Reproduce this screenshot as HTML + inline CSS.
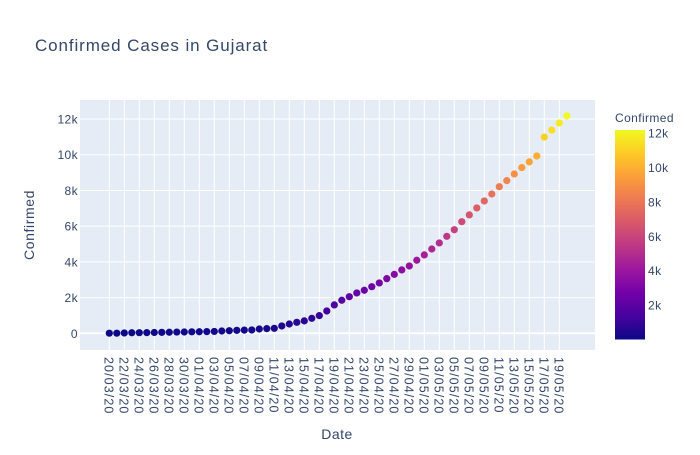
<!DOCTYPE html>
<html><head><meta charset="utf-8"><style>
body{margin:0;background:#fff;font-family:"Liberation Sans",sans-serif;}
svg text{font-family:"Liberation Sans",sans-serif;fill:#34466a;}
</style></head><body>
<svg id="chart" width="700" height="450" xmlns="http://www.w3.org/2000/svg">
<defs>
<linearGradient id="plasma" x1="0" y1="1" x2="0" y2="0">
<stop offset="0" stop-color="#0d0887"/><stop offset="0.111" stop-color="#46039f"/><stop offset="0.222" stop-color="#7201a8"/><stop offset="0.333" stop-color="#9c179e"/><stop offset="0.444" stop-color="#bd3786"/><stop offset="0.556" stop-color="#d8576b"/><stop offset="0.667" stop-color="#ed7953"/><stop offset="0.778" stop-color="#fb9f3a"/><stop offset="0.889" stop-color="#fdca26"/><stop offset="1" stop-color="#f0f921"/>
</linearGradient>
</defs>
<text x="35" y="51" font-size="17" letter-spacing="0.9">Confirmed Cases in Gujarat</text>
<rect x="80" y="100" width="515" height="250" fill="#e5ecf6"/>
<g id="grid"></g>
<g id="yticks"></g>
<g id="xticks"></g>
<g id="points"></g>
<text x="337" y="439" font-size="14" letter-spacing="0.5" text-anchor="middle">Date</text>
<text transform="translate(34,225) rotate(-90)" font-size="14" letter-spacing="0.6" text-anchor="middle">Confirmed</text>
<text x="615" y="122" font-size="12" letter-spacing="0.4">Confirmed</text>
<rect x="615" y="130" width="30" height="209.5" fill="url(#plasma)"/>
<g id="cbticks"></g>
</svg>
<script>
const startDate = [2020, 2, 20];
const confirmed = [5,7,18,30,33,38,44,53,58,69,73,82,87,95,105,128,144,165,179,186,241,262,280,410,520,615,695,840,990,1250,1590,1850,2050,2260,2410,2610,2820,3060,3300,3550,3770,4090,4390,4720,5060,5430,5800,6250,6630,7020,7410,7800,8210,8550,8920,9280,9600,9930,10990,11380,11780,12170];
const yTicks = [0,2000,4000,6000,8000,10000,12000];
const yTickLabels = ["0","2k","4k","6k","8k","10k","12k"];
const cbTicks = [2000,4000,6000,8000,10000,12000];
const cbTickLabels = ["2k","4k","6k","8k","10k","12k"];

const NS="http://www.w3.org/2000/svg";
function mk(t,a,p){const e=document.createElementNS(NS,t);for(const k in a)e.setAttribute(k,a[k]);p.appendChild(e);return e;}
const xS=i=>109.3+i*7.5;
const yS=v=>333.3-v*0.017857;
const cmin=Math.min(...confirmed), cmax=Math.max(...confirmed);
const cbS=v=>339.5-(v-cmin)/(cmax-cmin)*209.5;
const stops=["#0d0887","#46039f","#7201a8","#9c179e","#bd3786","#d8576b","#ed7953","#fb9f3a","#fdca26","#f0f921"];
function hx(h){return [1,3,5].map(i=>parseInt(h.substr(i,2),16));}
function color(v){let t=(v-cmin)/(cmax-cmin)*(stops.length-1);let i=Math.min(Math.floor(t),stops.length-2);let f=t-i;const a=hx(stops[i]),b=hx(stops[i+1]);return "rgb("+a.map((c,k)=>Math.round(c+(b[k]-c)*f)).join(",")+")";}
const grid=document.getElementById('grid'),yt=document.getElementById('yticks'),xt=document.getElementById('xticks'),pts=document.getElementById('points'),cb=document.getElementById('cbticks');
yTicks.forEach((v,i)=>{
 const l=mk('line',{x1:80,x2:595,y1:yS(v),y2:yS(v),stroke:'#fff','stroke-width':v===0?2:1},grid);
 
 
 const t=mk('text',{x:78,y:yS(v)+4.5,'font-size':12,'letter-spacing':0.4,'text-anchor':'end'},yt);
 t.textContent=yTickLabels[i];
 
 
});
const d0=new Date(startDate[0],startDate[1],startDate[2]);
for(let i=0;i<confirmed.length;i+=2){
 const x=xS(i);
 if(x>595)break;
 const l=mk('line',{x1:x,x2:x,y1:100,y2:350,stroke:'#fff','stroke-width':1},grid);
 
 
 const d=new Date(d0.getTime()+i*86400000);
 const s=String(d.getDate()).padStart(2,'0')+'/'+String(d.getMonth()+1).padStart(2,'0')+'/'+String(d.getFullYear()).slice(2);
 const t=mk('text',{transform:`translate(${x-4.7},357) rotate(90)`,'font-size':12.5,'letter-spacing':1.1},xt);
 t.textContent=s;
 
 
}
confirmed.forEach((v,i)=>{
 const c=mk('circle',{cx:xS(i),cy:yS(v),r:3.6,fill:color(v)},pts);
 
 
});
cbTicks.forEach((v,i)=>{
 const t=mk('text',{x:648,y:cbS(v)+4.5,'font-size':12,'letter-spacing':0.4},cb);
 t.textContent=cbTickLabels[i];
 
 
});
</script>
</body></html>
